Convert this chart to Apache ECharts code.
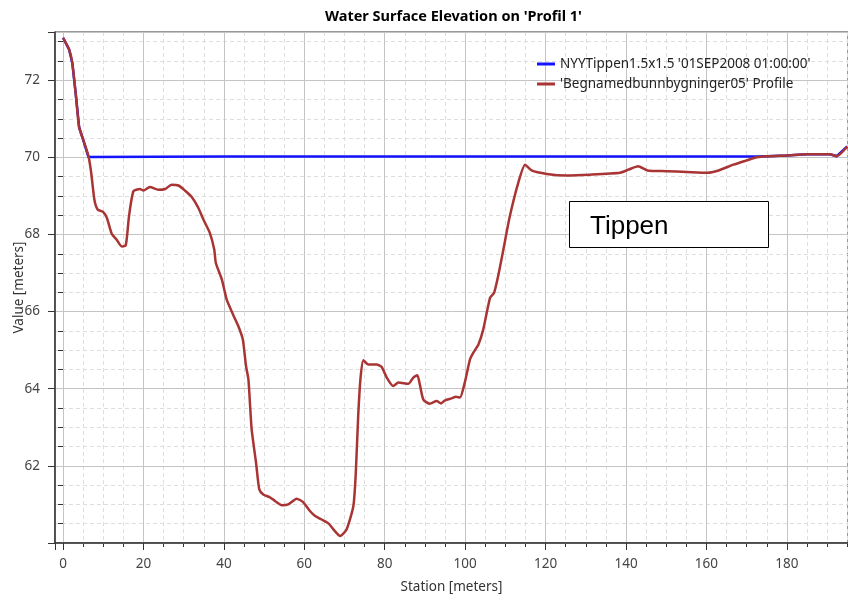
<!DOCTYPE html>
<html>
<head>
<meta charset="utf-8">
<title>Water Surface Elevation on 'Profil 1'</title>
<script src="https://cdn.jsdelivr.net/npm/echarts@6/dist/echarts.min.js"></script>
<style>
  html, body { margin: 0; padding: 0; background: #fff; }
  #main { width: 848px; height: 600px; }
</style>
</head>
<body>
<div id="main"></div>
<script>
// station [m] and elevation [m]
var groundStation = [0, 1.5, 2.3, 3.2, 4.0, 5.0, 6.3, 7.0, 7.8, 8.6, 10.0, 10.9, 12.1, 13.3, 14.6, 15.6, 16.4, 17.5,
    19.1, 20.0, 21.6, 23.7, 25.4, 27.0, 28.7, 30.3, 32.0, 33.6, 34.9, 36.5, 37.6, 38.0, 39.5, 40.7, 42.3, 43.6,
    44.7, 45.5, 46.1, 46.9, 48.0, 48.8, 49.8, 51.5, 52.7, 54.4, 56.0, 58.1, 59.7, 61.4, 62.7, 64.3, 66.0, 67.6,
    68.9, 70.5, 72.2, 72.8, 73.4, 74.0, 74.7, 75.9, 78.0, 79.2, 80.5, 82.1, 83.4, 85.9, 87.1, 88.1, 88.8, 89.6,
    91.2, 92.9, 94.0, 95.0, 96.6, 97.7, 98.7, 99.9, 101.2, 102.0, 103.3, 104.5, 106.2, 107.2, 108.2, 109.5,
    111.1, 113.2, 114.9, 116.5, 120.3, 125.2, 131.0, 138.5, 140.6, 143.0, 145.3, 150.1, 155.1, 160.2, 163.0,
    166.7, 170.0, 172.5, 175.0, 180.0, 185.0, 190.7, 192.4, 195.0];
var groundElev = [73.1, 72.8, 72.45, 71.6, 70.78, 70.46, 70.04, 69.6, 68.9, 68.65, 68.58, 68.43, 68.02, 67.87, 67.69, 67.72, 68.47, 69.12,
    69.18, 69.14, 69.23, 69.16, 69.18, 69.29, 69.27, 69.14, 68.97, 68.7, 68.39, 68.04, 67.61, 67.26, 66.83, 66.31, 65.92, 65.62,
    65.28, 64.59, 64.24, 62.95, 62.08, 61.39, 61.26, 61.18, 61.09, 60.98, 61.0, 61.15, 61.06, 60.83, 60.7, 60.61, 60.51, 60.31,
    60.18, 60.35, 60.96, 61.82, 63.3, 64.3, 64.74, 64.63, 64.63, 64.57, 64.29, 64.07, 64.16, 64.13, 64.29, 64.35, 64.07, 63.72,
    63.61, 63.68, 63.62, 63.7, 63.75, 63.79, 63.77, 64.16, 64.76, 64.93, 65.15, 65.54, 66.36, 66.49, 66.92, 67.61,
    68.47, 69.34, 69.81, 69.66, 69.57, 69.53, 69.55, 69.6, 69.68, 69.77, 69.66, 69.64, 69.62, 69.6, 69.66,
    69.81, 69.92, 70.0, 70.03, 70.05, 70.08, 70.08, 70.03, 70.28];

var wsStation = [0, 1.5, 2.3, 3.2, 4.0, 5.0, 6.3, 40, 100, 172.5, 175.0, 180.0, 185.0, 190.7, 192.4, 195.0];
var wsElev = [73.1, 72.8, 72.45, 71.6, 70.78, 70.46, 70.01, 70.02, 70.02, 70.02, 70.03, 70.05, 70.08, 70.08, 70.03, 70.28];

var seriesNames = ["NYYTippen1.5x1.5 '01SEP2008 01:00:00'", "'Begnamedbunnbygninger05' Profile"];
var xTickLabels = [0, 20, 40, 60, 80, 100, 120, 140, 160, 180];
var yTickLabels = [62, 64, 66, 68, 70, 72];

function pairs(xs, ys) {
    var out = [];
    for (var i = 0; i < xs.length; i++) out.push([xs[i], ys[i]]);
    return out;
}

var font = "'Noto Sans', 'Open Sans', sans-serif";
var myChart = echarts.init(document.getElementById('main'), null, { renderer: 'canvas' });

myChart.setOption({
    backgroundColor: '#fff',
    animation: false,
    title: {
        text: "Water Surface Elevation on 'Profil 1'",
        left: 320, top: 4,
        textStyle: { fontFamily: font, fontSize: 14.5, fontWeight: 'bold', color: '#000' }
    },
    legend: {
        orient: 'vertical',
        left: 532, top: 52,
        itemWidth: 18, itemHeight: 3, itemGap: 6,
        icon: 'rect',
        textStyle: { fontFamily: font, fontSize: 13.5, color: '#222' },
        data: seriesNames
    },
    grid: {
        left: 55, right: 0, top: 32, bottom: 57,
        containLabel: false,
        outerBoundsMode: 'none',
        show: true, borderColor: '#333', borderWidth: 1
    },
    xAxis: [{
        type: 'value', min: -2, max: 195.2, splitNumber: 10,
        name: 'Station [meters]', nameLocation: 'middle', nameGap: 37,
        nameMoveOverlap: false,
        nameTextStyle: { fontFamily: font, fontSize: 13.5, color: '#333' },
        axisLine: { onZero: false, lineStyle: { color: '#333', width: 1.5 } },
        axisTick: { show: true, length: 7, lineStyle: { color: '#333' } },
        axisLabel: {
            margin: 14, fontFamily: font, fontSize: 13.5, color: '#444',
            formatter: function (v) { return xTickLabels.indexOf(v) >= 0 ? String(v) : ''; }
        },
        splitLine: { show: true, lineStyle: { color: '#c4c4c4', width: 1 } },
        z: 3
    }, {
        type: 'value', min: -2, max: 195.2, splitNumber: 40, position: 'bottom',
        axisLine: { show: false },
        axisTick: { show: true, length: 4, lineStyle: { color: '#333' } },
        axisLabel: { show: false },
        splitLine: { show: true, lineStyle: { color: '#dedede', width: 1, type: [4, 3] } },
        z: 1
    }],
    yAxis: [{
        type: 'value', min: 60, max: 73.25, interval: 2,
        name: 'Value [meters]', nameLocation: 'middle', nameGap: 29, nameRotate: 90,
        nameMoveOverlap: false,
        nameTextStyle: { fontFamily: font, fontSize: 13.5, color: '#333' },
        axisLine: { show: true, onZero: false, lineStyle: { color: '#333', width: 1.5 } },
        axisTick: { show: true, length: 7, lineStyle: { color: '#333' } },
        axisLabel: {
            margin: 15, fontFamily: font, fontSize: 13.5, color: '#444',
            formatter: function (v) { return yTickLabels.indexOf(v) >= 0 ? String(v) : ''; }
        },
        splitLine: { show: true, lineStyle: { color: '#c4c4c4', width: 1 } },
        z: 3
    }, {
        type: 'value', min: 60, max: 73.25, interval: 0.5, position: 'left',
        axisLine: { show: false },
        axisTick: { show: true, length: 5, lineStyle: { color: '#333' } },
        axisLabel: { show: false },
        splitLine: { show: true, lineStyle: { color: '#dedede', width: 1, type: [4, 3] } },
        z: 1
    }],
    series: [{
        name: seriesNames[0],
        type: 'line',
        xAxisIndex: 0, yAxisIndex: 0,
        data: pairs(wsStation, wsElev),
        showSymbol: false,
        lineStyle: { color: '#1414ff', width: 2.5 },
        itemStyle: { color: '#1414ff' },
        z: 4
    }, {
        name: seriesNames[1],
        type: 'line',
        xAxisIndex: 0, yAxisIndex: 0,
        data: pairs(groundStation, groundElev),
        showSymbol: false,
        smooth: 0.2,
        lineStyle: { color: '#a83434', width: 2.5 },
        itemStyle: { color: '#a83434' },
        z: 5
    }],
    graphic: [{
        type: 'rect',
        shape: { x: 569.5, y: 201.5, width: 199, height: 46 },
        style: { fill: '#fff', stroke: '#000', lineWidth: 1 },
        z: 100
    }, {
        type: 'text',
        x: 590, y: 227,
        style: {
            text: 'Tippen', fill: '#000',
            font: "26px 'Liberation Sans', Arial, sans-serif",
            textAlign: 'left', textVerticalAlign: 'middle'
        },
        z: 101
    }]
});
</script>
</body>
</html>
